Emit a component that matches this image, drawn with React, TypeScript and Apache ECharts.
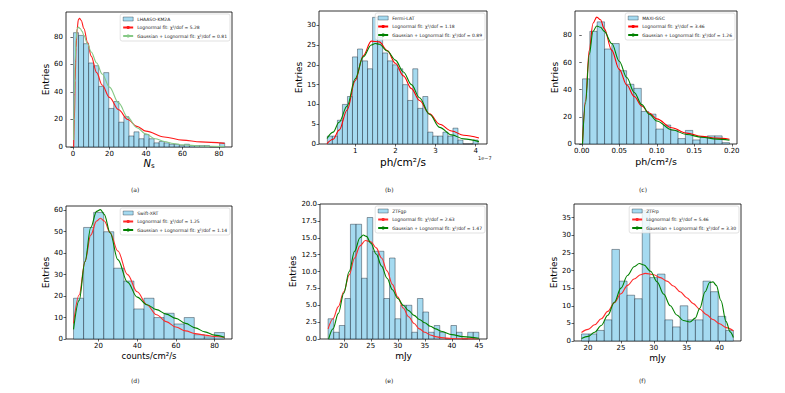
import React, { useEffect, useRef } from "react";
import * as echarts from "echarts";

// ---------- (a) LHAASO-KM2A ----------
const aCounts = [83, 81, 75, 61, 59, 44, 54, 28, 33, 18, 22, 8, 11, 6, 9, 6, 3, 4, 3, 2, 2, 1, 2, 1, 1, 1, 1, 0, 0, 3];
const aRedX = [0.4, 0.8, 1.2, 1.7, 2.3, 3.0, 3.6, 4.5, 6, 8, 10, 13, 16, 20, 25, 30, 35, 40, 50, 60, 70, 83];
const aRedY = [0, 20, 48, 72, 86, 92.5, 93.5, 92, 86, 76, 66, 54, 45, 36, 27, 20, 15, 11.5, 7.3, 5, 3.7, 2.6];
const aGreenX = [0.4, 0.8, 1.2, 1.7, 2.3, 3.0, 4, 5, 6, 8, 10, 13, 16, 20, 25, 30, 35, 40, 45, 50, 55, 60, 70, 83];
const aGreenY = [5, 38, 62, 78, 85.5, 87, 86, 84, 81, 75, 69, 61, 53, 43.5, 32, 21.5, 14, 9.5, 6, 4, 2.5, 1.6, 0.7, 0.3];
const aXTicks = [0, 20, 40, 60, 80];
const aYTicks = [0, 20, 40, 60, 80];

// ---------- (b) Fermi-LAT (x in units of 1e-7) ----------
const bCounts = [2, 2, 6, 10, 12, 22, 24, 21, 19, 32, 27, 23, 21, 20, 19, 15, 11, 19, 9, 12, 3, 2, 2, 3, 2, 4, 1, 0, 0, 1];
const bRedX = [0.3, 0.45, 0.6, 0.8, 1.0, 1.2, 1.4, 1.6, 1.8, 2.0, 2.2, 2.4, 2.6, 2.85, 3.1, 3.4, 3.7, 4.08];
const bRedY = [0.1, 1.2, 3.5, 8.6, 16, 22.3, 26, 25.8, 23.6, 20.4, 17.2, 14, 11, 7.6, 5, 3.3, 2.2, 1.5];
const bGreenX = [0.3, 0.45, 0.6, 0.8, 1.0, 1.2, 1.4, 1.5, 1.6, 1.8, 2.0, 2.2, 2.4, 2.6, 2.85, 3.1, 3.4, 3.7, 4.08];
const bGreenY = [1.4, 3, 5.5, 9.6, 16.5, 22, 25, 25.4, 25.2, 23.5, 21.2, 18.2, 15, 11.7, 7.5, 4.2, 2.3, 1.3, 0.6];
const bXTicks = [1, 2, 3, 4];
const bYTicks = [0, 5, 10, 15, 20, 25, 30];

// ---------- (c) MAXI-GSC ----------
const cCounts = [48, 83, 90, 70, 74, 54, 44, 41, 24, 22, 11, 14, 10, 4, 10, 3, 5, 6, 6, 1];
const cRedX = [0.001, 0.005, 0.01, 0.015, 0.02, 0.025, 0.03, 0.04, 0.05, 0.06, 0.07, 0.08, 0.09, 0.1, 0.12, 0.14, 0.16, 0.18, 0.197];
const cRedY = [0, 32, 69, 89, 93.5, 91.5, 85, 69, 55, 43.5, 35, 28, 22.8, 18.5, 12, 8, 5.6, 4.3, 3.5];
const cGreenX = [0.001, 0.005, 0.01, 0.015, 0.02, 0.025, 0.03, 0.04, 0.05, 0.06, 0.07, 0.08, 0.09, 0.1, 0.12, 0.14, 0.16, 0.18, 0.197];
const cGreenY = [0, 30, 66, 83, 87, 86, 83, 74, 61, 49, 38, 29, 22, 17, 10.5, 7, 5, 3.6, 2.8];
const cXTicks = [0, 0.05, 0.1, 0.15, 0.2];
const cYTicks = [0, 20, 40, 60, 80];

// ---------- (d) Swift-XRT ----------
const dCounts = [19, 52, 59, 50, 33, 27, 14, 19, 10, 12, 7, 10, 2, 1, 3];
const dRedX = [7.1, 10, 13, 16, 19, 21, 23, 26, 30, 35, 40, 45, 50, 55, 60, 65, 70, 75, 80, 85.1];
const dRedY = [7.3, 20.5, 36, 48.5, 55, 56.3, 55, 49.5, 41, 30, 22, 16, 11.3, 8.1, 5.6, 3.8, 2.5, 1.8, 1.2, 0.8];
const dGreenX = [7.1, 10, 13, 16, 19, 21, 23, 26, 30, 35, 40, 45, 50, 55, 60, 65, 70, 75, 80, 85.1];
const dGreenY = [4.5, 18, 36, 52, 59.5, 60.3, 58, 49.5, 37, 26.5, 19.5, 16, 13.7, 11.6, 9.6, 7.3, 5.2, 3.3, 1.8, 0.8];
const dXTicks = [20, 40, 60, 80];
const dYTicks = [0, 10, 20, 30, 40, 50, 60];

// ---------- (e) ZTFgp ----------
const eCounts = [3, 1, 2, 6, 17, 17, 9, 18, 13, 13, 6, 12, 3, 5, 5, 1, 6, 4, 1, 2, 1, 0, 2, 1, 0, 1, 1];
const eRedX = [17.1, 18, 19, 20, 21, 22, 23, 24, 25, 26, 27, 28, 29, 30, 31, 32, 33, 34, 35, 36, 37, 38, 40, 42, 45];
const eRedY = [1.5, 3, 4.8, 7, 9.5, 12, 13.8, 14.6, 14.4, 13.5, 12, 10.1, 8.1, 6.2, 4.6, 3.3, 2.3, 1.5, 1.0, 0.6, 0.35, 0.2, 0.07, 0.02, 0];
const eGreenX = [17.2, 18, 19, 20, 21, 22, 23, 23.6, 24.2, 25, 26, 27, 28, 29, 30, 31, 32, 33, 34, 35, 36, 37, 38, 40, 42, 45];
const eGreenY = [0, 1.5, 3.8, 6.8, 10, 13, 15, 15.4, 15.2, 14.2, 12.6, 10.8, 9, 7.3, 6, 5, 4.2, 3.5, 2.9, 2.4, 1.9, 1.5, 1.15, 0.65, 0.35, 0.1];
const eXTicks = [20, 25, 30, 35, 40, 45];
const eYTicks = [0, 2.5, 5, 7.5, 10, 12.5, 15, 17.5, 20];

// ---------- (f) ZTFrp ----------
const fCounts = [2, 2, 3, 6, 26, 17, 13, 12, 37, 18, 19, 6, 4, 10, 6, 6, 17, 14, 7, 3];
const fRedX = [19, 20, 21, 22, 23, 24, 25, 26, 27, 28, 28.7, 30, 31, 32, 33, 34, 35, 36, 37, 38, 39, 40, 41, 42.1];
const fRedY = [2.4, 3.3, 4.6, 6.3, 8.4, 10.9, 13.4, 15.8, 17.6, 18.8, 19.2, 18.8, 18, 17, 15.6, 14, 12.3, 10.6, 9, 7.5, 6.1, 4.9, 3.8, 2.9];
const fGreenX = [19, 20, 21, 22, 23, 24, 25, 26, 27, 27.8, 28.5, 29.5, 30.5, 31.5, 32.5, 33.5, 34.5, 35.5, 36.3, 37, 37.8, 38.5, 39, 39.5, 40.2, 41, 41.6, 42.1];
const fGreenY = [0.7, 1.3, 2.5, 4.4, 7.3, 11, 15, 18.6, 21.1, 22, 21.6, 19.8, 16.8, 13.3, 10, 7.4, 5.8, 5.4, 6.5, 9.3, 14, 16.6, 16.8, 15.8, 11.5, 5.5, 2.6, 1];
const fXTicks = [20, 25, 30, 35, 40];
const fYTicks = [0, 5, 10, 15, 20, 25, 30, 35];

const histNames = ["LHAASO-KM2A", "Fermi-LAT", "MAXI-GSC", "Swift-XRT", "ZTFgp", "ZTFrp"];
const logChi = ["5.28", "1.18", "3.46", "1.25", "2.63", "5.46"];
const gaussChi = ["0.81", "0.89", "1.26", "1.14", "1.47", "3.30"];
const captions = ["(a)", "(b)", "(c)", "(d)", "(e)", "(f)"];

const W = 785;
const H = 393;
const FONT = "DejaVu Sans";

type Panel = {
  left: number; top: number; width: number; height: number;
  xMin: number; xMax: number; yMax: number;
  binStart: number; binWidth: number; counts: number[];
  redX: number[]; redY: number[]; greenX: number[]; greenY: number[];
  xTicks: number[]; yTicks: number[];
  xFmt: (v: number) => string; yFmt: (v: number) => string;
  xName: string; xNameSize: number; xNameGap: number; yNameGap: number;
  greenColor: string; redColor: string;
  capX: number; capY: number;
};

const int = (v: number) => String(Math.round(v));

const panels: Panel[] = [
  { left: 66, top: 12, width: 166, height: 135, xMin: -3.8, xMax: 87.1, yMax: 98,
    binStart: 0.3, binWidth: 2.76, counts: aCounts, redX: aRedX, redY: aRedY, greenX: aGreenX, greenY: aGreenY,
    xTicks: aXTicks, yTicks: aYTicks, xFmt: int, yFmt: int,
    xName: "{i|N}{s|s}", xNameSize: 10, xNameGap: 9, yNameGap: 15,
    greenColor: "#86c986", redColor: "#ff1a1a", capX: 137, capY: 190 },
  { left: 319, top: 11, width: 168, height: 133, xMin: 0.1, xMax: 4.28, yMax: 33.6,
    binStart: 0.308, binWidth: 0.125, counts: bCounts, redX: bRedX, redY: bRedY, greenX: bGreenX, greenY: bGreenY,
    xTicks: bXTicks, yTicks: bYTicks, xFmt: int, yFmt: int,
    xName: "ph/cm²/s", xNameSize: 10.5, xNameGap: 12, yNameGap: 13,
    greenColor: "#008000", redColor: "#ff0000", capX: 391, capY: 190 },
  { left: 575, top: 11, width: 162, height: 133, xMin: -0.009, xMax: 0.207, yMax: 98,
    binStart: 0.001, binWidth: 0.0098, counts: cCounts, redX: cRedX, redY: cRedY, greenX: cGreenX, greenY: cGreenY,
    xTicks: cXTicks, yTicks: cYTicks, xFmt: (v) => v.toFixed(2), yFmt: int,
    xName: "ph/cm²/s", xNameSize: 9.5, xNameGap: 12, yNameGap: 13,
    greenColor: "#008000", redColor: "#ff0000", capX: 645, capY: 190 },
  { left: 66, top: 206, width: 166, height: 133, xMin: 3.2, xMax: 89, yMax: 62,
    binStart: 7.1, binWidth: 5.2, counts: dCounts, redX: dRedX, redY: dRedY, greenX: dGreenX, greenY: dGreenY,
    xTicks: dXTicks, yTicks: dYTicks, xFmt: int, yFmt: int,
    xName: "counts/cm²/s", xNameSize: 8.5, xNameGap: 12, yNameGap: 15,
    greenColor: "#008000", redColor: "#ff2a2a", capX: 137, capY: 381 },
  { left: 320, top: 204, width: 167, height: 135, xMin: 15.6, xMax: 46.5, yMax: 20,
    binStart: 17.1, binWidth: 1.033, counts: eCounts, redX: eRedX, redY: eRedY, greenX: eGreenX, greenY: eGreenY,
    xTicks: eXTicks, yTicks: eYTicks, xFmt: int, yFmt: (v) => v.toFixed(1),
    xName: "mJy", xNameSize: 9, xNameGap: 12, yNameGap: 13,
    greenColor: "#008000", redColor: "#ff2a2a", capX: 391, capY: 381 },
  { left: 574, top: 204, width: 167, height: 137, xMin: 17.86, xMax: 43.26, yMax: 38.9,
    binStart: 19.0, binWidth: 1.155, counts: fCounts, redX: fRedX, redY: fRedY, greenX: fGreenX, greenY: fGreenY,
    xTicks: fXTicks, yTicks: fYTicks, xFmt: int, yFmt: int,
    xName: "mJy", xNameSize: 9, xNameGap: 12, yNameGap: 12,
    greenColor: "#008000", redColor: "#ff2a2a", capX: 645, capY: 381 },
];

const BAR_FILL = "rgba(135,206,235,0.75)";
const BAR_EDGE = "rgba(20,30,40,0.7)";

function buildOption() {
  const grid: any[] = [];
  const xAxis: any[] = [];
  const yAxis: any[] = [];
  const series: any[] = [];
  const legend: any[] = [];
  const graphic: any[] = [];

  panels.forEach((p, i) => {
    grid.push({
      left: p.left, top: p.top, width: p.width, height: p.height,
      show: true, borderColor: "#000", borderWidth: 0.8, backgroundColor: "transparent",
    });
    xAxis.push({
      type: "value", gridIndex: i, min: p.xMin, max: p.xMax,
      name: p.xName, nameLocation: "middle", nameGap: p.xNameGap,
      nameTextStyle: {
        fontSize: p.xNameSize, fontFamily: FONT, color: "#000",
        rich: {
          i: { fontStyle: "italic", fontSize: 10, fontFamily: FONT, color: "#000" },
          s: { fontSize: 7, fontFamily: FONT, color: "#000", padding: [5, 0, 0, 0] },
        },
      },
      axisLine: { show: false },
      splitLine: { show: false },
      axisTick: { show: true, length: 2.5, lineStyle: { color: "#000", width: 0.6 }, customValues: p.xTicks },
      axisLabel: { fontSize: 7, fontFamily: FONT, color: "#000", margin: 3.5, customValues: p.xTicks, formatter: p.xFmt },
    });
    yAxis.push({
      type: "value", gridIndex: i, min: 0, max: p.yMax,
      name: "Entries", nameLocation: "middle", nameGap: p.yNameGap,
      nameTextStyle: { fontSize: 9, fontFamily: FONT, color: "#000" },
      axisLine: { show: false },
      splitLine: { show: false },
      axisTick: { show: true, length: 2.5, lineStyle: { color: "#000", width: 0.6 }, customValues: p.yTicks },
      axisLabel: { fontSize: 7, fontFamily: FONT, color: "#000", margin: 3, customValues: p.yTicks, formatter: p.yFmt },
    });

    const histData = p.counts.map((c, k) => [p.binStart + k * p.binWidth, p.binStart + (k + 1) * p.binWidth, c]);
    const hName = histNames[i];
    const rName = "Lognormal fit: χ²/dof = " + logChi[i];
    const gName = "Gaussian + Lognormal fit: χ²/dof = " + gaussChi[i];

    series.push({
      type: "custom", name: hName, xAxisIndex: i, yAxisIndex: i,
      data: histData, encode: { x: [0, 1], y: 2 },
      itemStyle: { color: BAR_FILL, borderColor: BAR_EDGE, borderWidth: 0.6 },
      renderItem: (params: any, api: any) => {
        const p0 = api.coord([api.value(0), api.value(2)]);
        const p1 = api.coord([api.value(1), 0]);
        return {
          type: "rect",
          shape: { x: p0[0], y: p0[1], width: p1[0] - p0[0], height: p1[1] - p0[1] },
          style: { fill: BAR_FILL, stroke: BAR_EDGE, lineWidth: 0.6 },
        };
      },
      z: 2,
    });
    series.push({
      type: "line", name: rName, xAxisIndex: i, yAxisIndex: i,
      data: p.redX.map((x, k) => [x, p.redY[k]]),
      smooth: 0.35, smoothMonotone: "x", symbol: "none",
      lineStyle: { color: p.redColor, width: 1.1 }, itemStyle: { color: p.redColor }, z: 3,
    });
    series.push({
      type: "line", name: gName, xAxisIndex: i, yAxisIndex: i,
      data: p.greenX.map((x, k) => [x, p.greenY[k]]),
      smooth: 0.35, smoothMonotone: "x", symbol: "none",
      lineStyle: { color: p.greenColor, width: 1.1 }, itemStyle: { color: p.greenColor }, z: 4,
    });

    legend.push({
      orient: "vertical",
      right: W - (p.left + p.width - 2),
      top: p.top + 2,
      itemWidth: 10, itemHeight: 4, itemGap: 3.5,
      padding: [2.5, 3, 2.5, 2],
      selectedMode: false,
      borderColor: "#cfcfcf", borderWidth: 0.6, borderRadius: 2,
      backgroundColor: "rgba(255,255,255,0.8)",
      textStyle: { fontSize: 4.5, fontFamily: FONT, color: "#222", padding: [0, 0, 0, -1] },
      data: [
        { name: hName, icon: "rect", itemStyle: { color: BAR_FILL, borderColor: BAR_EDGE, borderWidth: 0.5 } },
        { name: rName },
        { name: gName },
      ],
    });

    graphic.push({
      type: "text", left: p.capX - 6, top: p.capY - 4,
      style: { text: captions[i], fontSize: 6, fontFamily: FONT, fill: "#222" },
    });
  });

  graphic.push({
    type: "text", left: 478, top: 155,
    style: { text: "1e−7", fontSize: 5, fontFamily: FONT, fill: "#222" },
  });

  return {
    animation: false,
    backgroundColor: "#fff",
    textStyle: { fontFamily: FONT },
    grid, xAxis, yAxis, series, legend, graphic,
  };
}

export default function App() {
  const ref = useRef<HTMLDivElement>(null);
  useEffect(() => {
    if (!ref.current) return;
    const chart = echarts.init(ref.current, undefined, { renderer: "svg" });
    chart.setOption(buildOption());
    return () => chart.dispose();
  }, []);
  return (
    <div
      ref={ref}
      style={{ position: "absolute", left: 0, top: 0, width: W, height: H, background: "#fff" }}
    />
  );
}
